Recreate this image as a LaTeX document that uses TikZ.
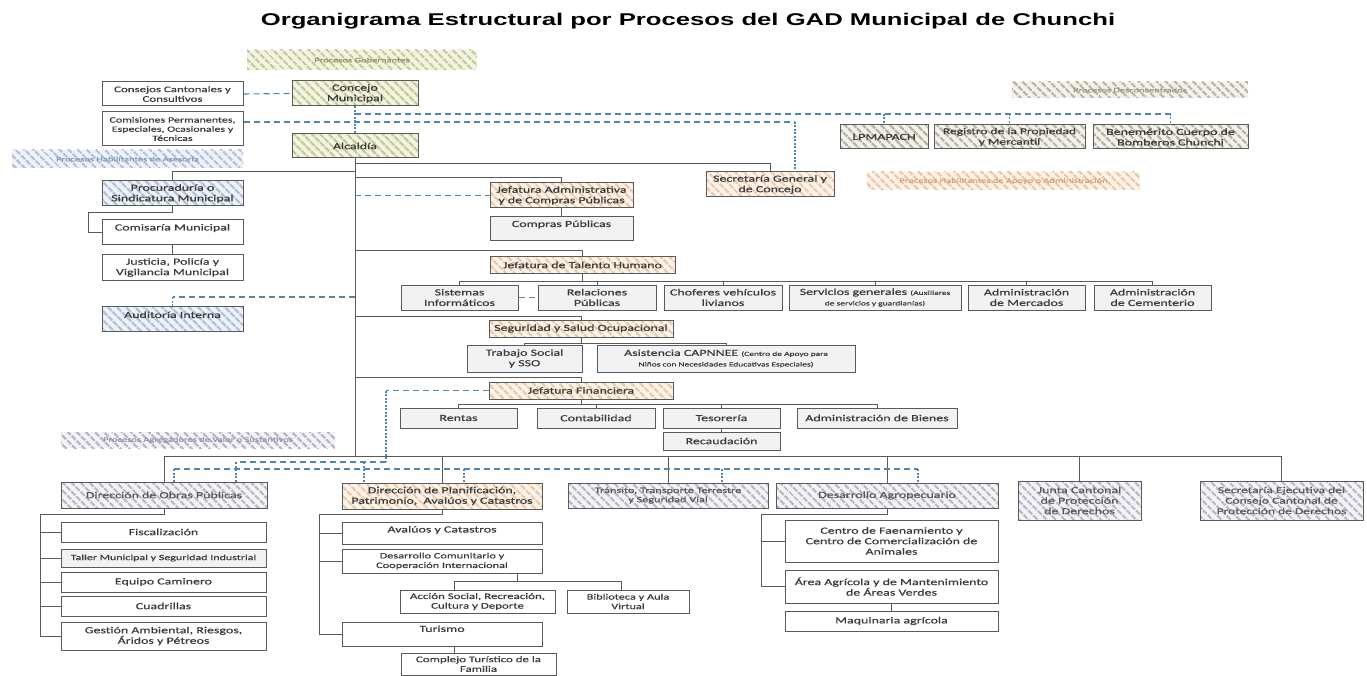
\documentclass[tikz,border=0pt]{standalone}
\usepackage{fontspec}
\setmainfont{Carlito}[FakeStretch=1.5, FakeBold=0.5]
\newfontfamily\titlefont{Liberation Sans}[FakeStretch=1.51]
\usetikzlibrary{patterns.meta}
\definecolor{linec}{HTML}{5A5A5A}
\definecolor{txt}{HTML}{3A3A3A}
\definecolor{grayfill}{HTML}{F2F2F2}
\definecolor{dashc}{HTML}{5286AA}
\definecolor{gnB}{HTML}{F3F4DF}\definecolor{gnS}{HTML}{C6C9A0}\definecolor{gnT}{HTML}{8C9160}
\definecolor{dsB}{HTML}{F2F1EC}\definecolor{dsS}{HTML}{B9B5A4}\definecolor{dsT}{HTML}{9C9880}
\definecolor{blB}{HTML}{EEF2F8}\definecolor{blS}{HTML}{B3C2D7}\definecolor{blT}{HTML}{7E9CC2}
\definecolor{orB}{HTML}{FCF2E8}\definecolor{orS}{HTML}{EBCAAC}\definecolor{orT}{HTML}{D9A06E}
\definecolor{puB}{HTML}{F3F3F6}\definecolor{puS}{HTML}{B8B8C8}\definecolor{puT}{HTML}{9595AE}
\newcommand\obox[7]{\node[#2, minimum width={(#5-#3)*1pt}, minimum height={(#6-#4)*1pt}] (#1) at ({(#3+#5)/2},{(#4+#6)/2}) {#7};}
\newcommand\sm{\fontsize{6.3}{7.2}\selectfont}
\tikzset{
  box/.style={draw=linec, line width=1pt, inner sep=0pt, align=center, text=txt, font=\fontsize{9.3}{10.5}\selectfont},
  wbox/.style={box, fill=white},
  gbox/.style={box, fill=grayfill},
  hbox/.style 2 args={box, preaction={fill=#1}, pattern={Lines[angle=-45,distance=6.5pt,line width=2.6pt]}, pattern color=#2},
  hgreen/.style={hbox={gnB}{gnS}},
  hdesc/.style={hbox={dsB}{dsS}},
  hblue/.style={hbox={blB}{blS}},
  horange/.style={hbox={orB}{orS}},
  hpurple/.style={hbox={puB}{puS}, text=txt!85},
  band/.style n args={3}{inner sep=0pt, align=center, preaction={fill=#1}, pattern={Lines[angle=-45,distance=6.5pt,line width=2.6pt]}, pattern color=#2, text=#3, font=\fontsize{7}{8}\selectfont},
  conn/.style={draw=linec, line width=1pt},
  dashl/.style={draw=dashc, line width=1.1pt, dash pattern=on 6pt off 4pt},
  dotl/.style={draw=dashc, line width=1.2pt, dash pattern=on 2pt off 1.5pt},
}
\begin{document}
\begin{tikzpicture}[x=1pt,y=-1pt]
\fill[white] (0,0) rectangle (1367,676);
\useasboundingbox (0,0) rectangle (1367,676);
% title
\node[text=black] (title) at (688,21) {\titlefont\bfseries\fontsize{17}{20}\selectfont Organigrama Estructural por Procesos del GAD Municipal de Chunchi};
% legend bands
\obox{bGob}{band={gnB}{gnS}{gnT}}{247}{50}{477}{70}{Procesos Gobernantes}
\obox{bDesc}{band={dsB}{dsS}{dsT}}{1012}{82}{1248}{98}{Procesos Desconcentrados}
\obox{bAses}{band={blB}{blS}{blT}}{12}{150}{243}{168}{Procesos Habilitantes de Asesoría}
\obox{bApoyo}{band={orB}{orS}{orT}}{867}{172}{1140}{190}{Procesos Habilitantes de Apoyo o Administración}
\obox{bAgreg}{band={puB}{puS}{puT}}{61}{432}{335}{448}{Procesos Agregadores de Valor o Sustantivos}
% top
\obox{consejos}{wbox, font=\fontsize{8.6}{9.6}\selectfont}{102}{82}{243}{106}{Consejos Cantonales y\\Consultivos}
\obox{comisiones}{wbox, font=\fontsize{8}{9.2}\selectfont}{102}{112}{243}{146}{Comisiones Permanentes,\\Especiales, Ocasionales y\\Técnicas}
\obox{concejo}{hgreen}{292}{81}{418}{106}{Concejo\\Municipal}
\obox{alc}{hgreen}{292}{134}{418}{158}{Alcaldía}
\obox{lpm}{hdesc}{840}{125}{928}{149}{LPMAPACH}
\obox{registro}{hdesc, font=\fontsize{9}{10.5}\selectfont}{934}{125}{1085}{149}{Registro de la Propiedad\\y Mercantil}
\obox{bomberos}{hdesc}{1093}{125}{1248}{149}{Benemérito Cuerpo de\\Bomberos Chunchi}
\obox{secg}{horange}{706}{172}{834}{197}{Secretaría General y\\de Concejo}
% asesoria
\obox{procu}{hblue}{102}{181}{243}{206}{Procuraduría o\\Sindicatura Municipal}
\obox{comis}{wbox}{102}{220}{243}{245}{Comisaría Municipal\\~}
\obox{justicia}{wbox}{102}{255}{243}{280}{Justicia, Policía y\\Vigilancia Municipal}
\obox{audit}{hblue}{102}{306}{243}{331}{Auditoría Interna\\[-3pt]~}
% apoyo
\obox{jadm}{horange}{490}{183}{633}{208}{Jefatura Administrativa\\y de Compras Públicas}
\obox{compras}{gbox}{490}{217}{633}{241}{Compras Públicas\\~}
\obox{jth}{horange}{490}{257}{675}{273}{Jefatura de Talento Humano}
\obox{sist}{gbox}{401}{285}{518}{310}{Sistemas\\Informáticos}
\obox{relac}{gbox}{538}{285}{656}{310}{Relaciones\\Públicas}
\obox{chof}{gbox}{664}{285}{782}{310}{Choferes vehículos\\livianos}
\obox{serv}{gbox}{789}{285}{961}{310}{Servicios generales {\sm(Auxiliares}\\{\sm de servicios y guardianías)}}
\obox{merc}{gbox}{968}{285}{1085}{310}{Administración\\de Mercados}
\obox{cem}{gbox}{1094}{285}{1211}{310}{Administración\\de Cementerio}
\obox{segu}{horange}{489}{320}{673}{337}{Seguridad y Salud Ocupacional}
\obox{trab}{gbox}{467}{345}{582}{372}{Trabajo Social\\y SSO}
\obox{asis}{gbox}{597}{345}{855}{372}{Asistencia CAPNNEE {\sm(Centro de Apoyo para}\\{\sm Niños con Necesidades Educativas Especiales)}}
\obox{jfin}{horange}{489}{382}{673}{399}{Jefatura Financiera}
\obox{rentas}{gbox}{400}{408}{517}{428}{Rentas}
\obox{contab}{gbox}{537}{408}{655}{428}{Contabilidad}
\obox{teso}{gbox}{663}{408}{780}{428}{Tesorería}
\obox{bienes}{gbox}{797}{408}{957}{428}{Administración de Bienes}
\obox{recau}{gbox}{663}{432}{780}{450}{Recaudación}
% agregadores
\obox{obras}{hpurple}{61}{482}{267}{508}{Dirección de Obras Públicas}
\obox{fisc}{wbox}{61}{522}{266}{542}{Fiscalización}
\obox{taller}{gbox, font=\fontsize{8}{9.2}\selectfont}{61}{549}{266}{567}{Taller Municipal y Seguridad Industrial}
\obox{equipo}{wbox}{61}{572}{266}{592}{Equipo Caminero}
\obox{cuad}{wbox}{61}{596}{266}{616}{Cuadrillas}
\obox{gest}{wbox}{61}{622}{266}{650}{Gestión Ambiental, Riesgos,\\Áridos y Pétreos}
\obox{plan}{horange}{342}{483}{542}{509}{Dirección de Planificación,\\Patrimonio,~ Avalúos y Catastros}
\obox{aval}{wbox}{342}{522}{542}{544}{Avalúos y Catastros\\[-3pt]~}
\obox{desa}{wbox, font=\fontsize{8.2}{9.6}\selectfont}{342}{549}{542}{573}{Desarrollo Comunitario y\\Cooperación Internacional}
\obox{accion}{wbox, font=\fontsize{8.6}{9.6}\selectfont}{400}{590}{555}{613}{Acción Social, Recreación,\\Cultura y Deporte}
\obox{biblio}{wbox, font=\fontsize{8.2}{9.6}\selectfont}{567}{590}{689}{613}{Biblioteca y Aula\\Virtual}
\obox{turismo}{wbox}{342}{622}{542}{646}{Turismo\\~}
\obox{complejo}{wbox, font=\fontsize{8.6}{9.6}\selectfont}{401}{653}{556}{675}{Complejo Turístico de la\\Familia}
\obox{transito}{hpurple, font=\fontsize{8.2}{9.2}\selectfont}{568}{483}{768}{508}{Tránsito, Transporte Terrestre\\y Seguridad Vial}
\obox{agro}{hpurple}{776}{483}{998}{508}{Desarrollo Agropecuario}
\obox{centro}{wbox}{785}{520}{998}{562}{Centro de Faenamiento y\\Centro de Comercialización de\\Animales}
\obox{area}{wbox}{785}{570}{998}{603}{Área Agrícola y de Mantenimiento\\de Áreas Verdes}
\obox{maq}{wbox}{785}{611}{998}{631}{Maquinaria agrícola}
\obox{junta}{hpurple}{1018}{481}{1141}{520}{Junta Cantonal\\de Protección\\de Derechos}
\obox{secej}{hpurple, font=\fontsize{9}{10.5}\selectfont}{1200}{481}{1363}{520}{Secretaría Ejecutiva del\\Consejo Cantonal de\\Protección de Derechos}
% coordinates
\coordinate (yb) at (0,456);
\coordinate (ysec) at (0,164);
\coordinate (ypro) at (0,172);
\coordinate (yadm) at (0,178);
\coordinate (yth) at (0,251);
\coordinate (yaud) at (0,297);
\coordinate (yseg) at (0,316);
\coordinate (yfin) at (0,377);
\coordinate (d1) at (0,114);
\coordinate (d2) at (0,122);
\coordinate (thb) at (0,281);
\coordinate (sgb) at (0,343);
\coordinate (fib) at (0,404);
\coordinate (fd) at (386,462);
\coordinate (u1) at (236,462);
\coordinate (u2) at (364,462);
\coordinate (l1) at (174,469);
\coordinate (l2) at (464,469);
\coordinate (l3) at (722,469);
\coordinate (l4) at (918,469);
\coordinate (ob) at (40,514);
\coordinate (pb) at (319,514);
\coordinate (ab) at (761,514);
\coordinate (db) at (517,581);
\coordinate (dbl) at (454,581);
\coordinate (dbr) at (621,581);
\coordinate (cx) at (454,0);
\coordinate (lc) at (88,213);
\coordinate (sgx) at (795,0);
% solid connectors
\draw[conn] (alc.south) -- (alc.south |- yb);
\draw[conn] (obras.north |- yb) -- (secej.north |- yb);
\foreach \n in {obras,plan,transito,agro,junta,secej} \draw[conn] (\n.north |- yb) -- (\n.north);
\draw[conn] (alc.south |- ysec) -| (secg.north);
\draw[conn] (alc.south |- ypro) -| (procu.north);
\draw[conn] (alc.south |- yadm) -| (jadm.north);
\draw[conn] (jadm.south) -- (compras.north);
\draw[conn] (procu.south) |- (lc) |- (comis.west);
\draw[conn] (comis.south) -- (justicia.north);
\draw[conn] (alc.south |- yth) -| (jth.north);
\draw[conn] (jth.south) -- (jth.south |- thb);
\draw[conn] (sist.north |- thb) -- (cem.north |- thb);
\foreach \n in {sist,relac,chof,serv,merc,cem} \draw[conn] (\n.north |- thb) -- (\n.north);
\draw[conn] (alc.south |- yseg) -| (segu.north);
\draw[conn] (segu.south) -- (segu.south |- sgb);
\draw[conn] (trab.north |- sgb) -- (asis.north |- sgb);
\foreach \n in {trab,asis} \draw[conn] (\n.north |- sgb) -- (\n.north);
\draw[conn] (alc.south |- yfin) -| (jfin.north);
\draw[conn] (jfin.south) -- (jfin.south |- fib);
\draw[conn] (rentas.north |- fib) -- (bienes.north |- fib);
\foreach \n in {rentas,contab,teso,bienes} \draw[conn] (\n.north |- fib) -- (\n.north);
\draw[conn] (teso.south) -- (recau.north);
\draw[conn] (obras.south) |- (ob) |- (gest.west);
\foreach \n in {fisc,taller,equipo,cuad} \draw[conn] (ob |- \n.west) -- (\n.west);
\draw[conn] (plan.south) |- (pb) |- (turismo.west);
\foreach \n in {aval,desa} \draw[conn] (pb |- \n.west) -- (\n.west);
\draw[conn] (db |- desa.south) -- (db);
\draw[conn] (dbl) -- (dbr);
\draw[conn] (dbl) -- (dbl |- accion.north);
\draw[conn] (dbr) -- (dbr |- biblio.north);
\draw[conn] (cx |- turismo.south) -- (cx |- complejo.north);
\draw[conn] (agro.south) |- (ab) |- (area.west);
\draw[conn] (ab |- centro.west) -- (centro.west);
\draw[conn] (area.south) -- (maq.north);
% dashed connectors
\draw[dashl] (consejos.east) -- (concejo.west);
\draw[dotl] (concejo.south) -- (alc.north);
\draw[dashl] (comisiones.east |- d2) -- (sgx |- d2);
\draw[dotl] (sgx |- d2) -- (sgx |- secg.north);
\draw[dashl] (concejo.south |- d1) -- (bomberos.north |- d1);
\foreach \n in {lpm,registro,bomberos} \draw[dotl] (\n.north |- d1) -- (\n.north);
\draw[dashl] (alc.south |- jadm.west) -- (jadm.west);
\draw[dashl] (alc.south |- yaud) -- (audit.north |- yaud);
\draw[dotl] (audit.north |- yaud) -- (audit.north);
\draw[dashl] (sist.east) -- (relac.west);
\draw[dashl] (jfin.west) -- (fd |- jfin.west);
\draw[dotl] (fd |- jfin.west) -- (fd);
\draw[dashl] (fd) -- (u1);
\draw[dotl] (u1) -- (u1 |- obras.north);
\draw[dotl] (u2) -- (u2 |- plan.north);
\draw[dashl] (l1) -- (l4);
\draw[dotl] (l1) -- (l1 |- obras.north);
\draw[dotl] (l2) -- (l2 |- plan.north);
\draw[dotl] (l3) -- (l3 |- transito.north);
\draw[dotl] (l4) -- (l4 |- agro.north);
\end{tikzpicture}
\end{document}
